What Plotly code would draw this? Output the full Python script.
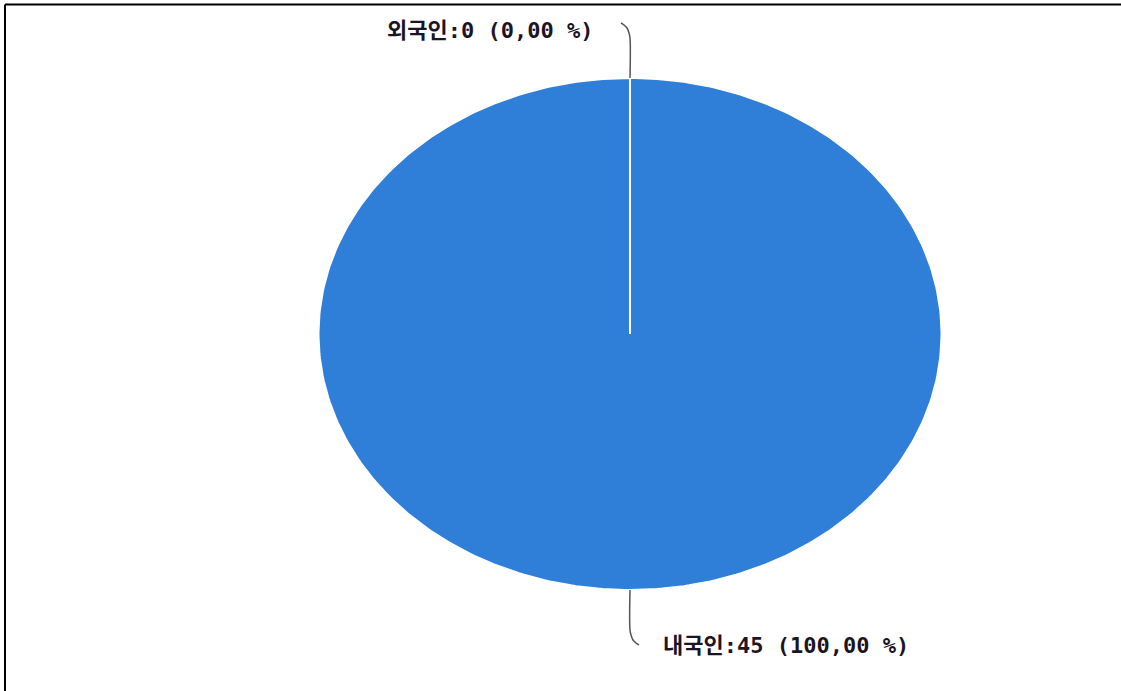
import math
import plotly.graph_objects as go

# ---- data ----
categories = ["내국인", "외국인"]
values = [45, 0]
slice_colors = ["#2f7ed8", "#0d233a"]

# ---- layout constants (pixel space) ----
W, H = 1121, 691
CX, CY = 630, 334        # pie centre
RX, RY = 311.5, 256      # pie radii (elliptical as in reference)
CONN_OUT = 48            # radial length of connector
CONN_CURL = 9            # horizontal curl at connector end
LABEL_GAP_LEFT = 26
LABEL_GAP_RIGHT = 22

total = sum(values)


def pt(theta):
    """theta: radians clockwise from top."""
    return CX + RX * math.sin(theta), CY - RY * math.cos(theta)


fig = go.Figure()

# slices
start = 0.0
mids = []
for cat, v, col in zip(categories, values, slice_colors):
    sweep = 2 * math.pi * v / total
    n = max(2, int(360 * v / total) + 2)
    xs, ys = [CX], [CY]
    for i in range(n + 1):
        t = start + sweep * i / n
        x, y = pt(t)
        xs.append(x)
        ys.append(y)
    xs.append(CX)
    ys.append(CY)
    fig.add_trace(go.Scatter(
        x=xs, y=ys, mode="lines", fill="toself", fillcolor=col,
        line=dict(color="#ffffff", width=2), hoverinfo="skip", showlegend=False,
    ))
    mids.append(start + sweep / 2)
    start += sweep

# connectors + labels
for cat, v, mid in zip(categories, values, mids):
    ex, ey = pt(mid)
    up = math.cos(mid) >= 0          # label above centre -> goes left
    direction = -1 if up else 1
    vy = -1 if up else 1
    cx_pts = [ex, ex, ex + direction * 1, ex + direction * 3,
              ex + direction * 6, ex + direction * CONN_CURL]
    cy_pts = [ey, ey + vy * (CONN_OUT - 8), ey + vy * (CONN_OUT - 3),
              ey + vy * (CONN_OUT + 2), ey + vy * (CONN_OUT + 5),
              ey + vy * (CONN_OUT + 7)]
    fig.add_trace(go.Scatter(
        x=cx_pts, y=cy_pts, mode="lines",
        line=dict(color="#555555", width=1.5, shape="spline"),
        hoverinfo="skip", showlegend=False,
    ))
    pct = f"{v / total * 100:.2f}".replace(".", ",")
    text = f"{cat}:{v} ({pct} %)"
    lx = cx_pts[-1] - LABEL_GAP_LEFT if up else cx_pts[-1] + LABEL_GAP_RIGHT
    ly = cy_pts[-1] + (7 if up else 0)
    fig.add_annotation(
        x=lx, y=ly, text=f"<b>{text}</b>", showarrow=False,
        xanchor="right" if up else "left", yanchor="middle",
        font=dict(family="DejaVu Sans Mono, Noto Sans CJK KR", size=22, color="#1c1424"),
    )

# frame lines (top and left)
fig.add_shape(type="line", x0=5, x1=W, y0=4.5, y1=4.5, line=dict(color="#000000", width=2))
fig.add_shape(type="line", x0=5, x1=5, y0=4.5, y1=H, line=dict(color="#000000", width=2))

fig.update_layout(
    width=W, height=H,
    margin=dict(l=0, r=0, t=0, b=0),
    paper_bgcolor="#ffffff", plot_bgcolor="#ffffff",
    xaxis=dict(range=[0, W], visible=False, fixedrange=True),
    yaxis=dict(range=[H, 0], visible=False, fixedrange=True),
    showlegend=False,
)

fig.write_html(
    "out.html",
    config={"displayModeBar": False},
    post_script="document.body.style.margin='0';document.body.style.overflow='hidden';",
)
